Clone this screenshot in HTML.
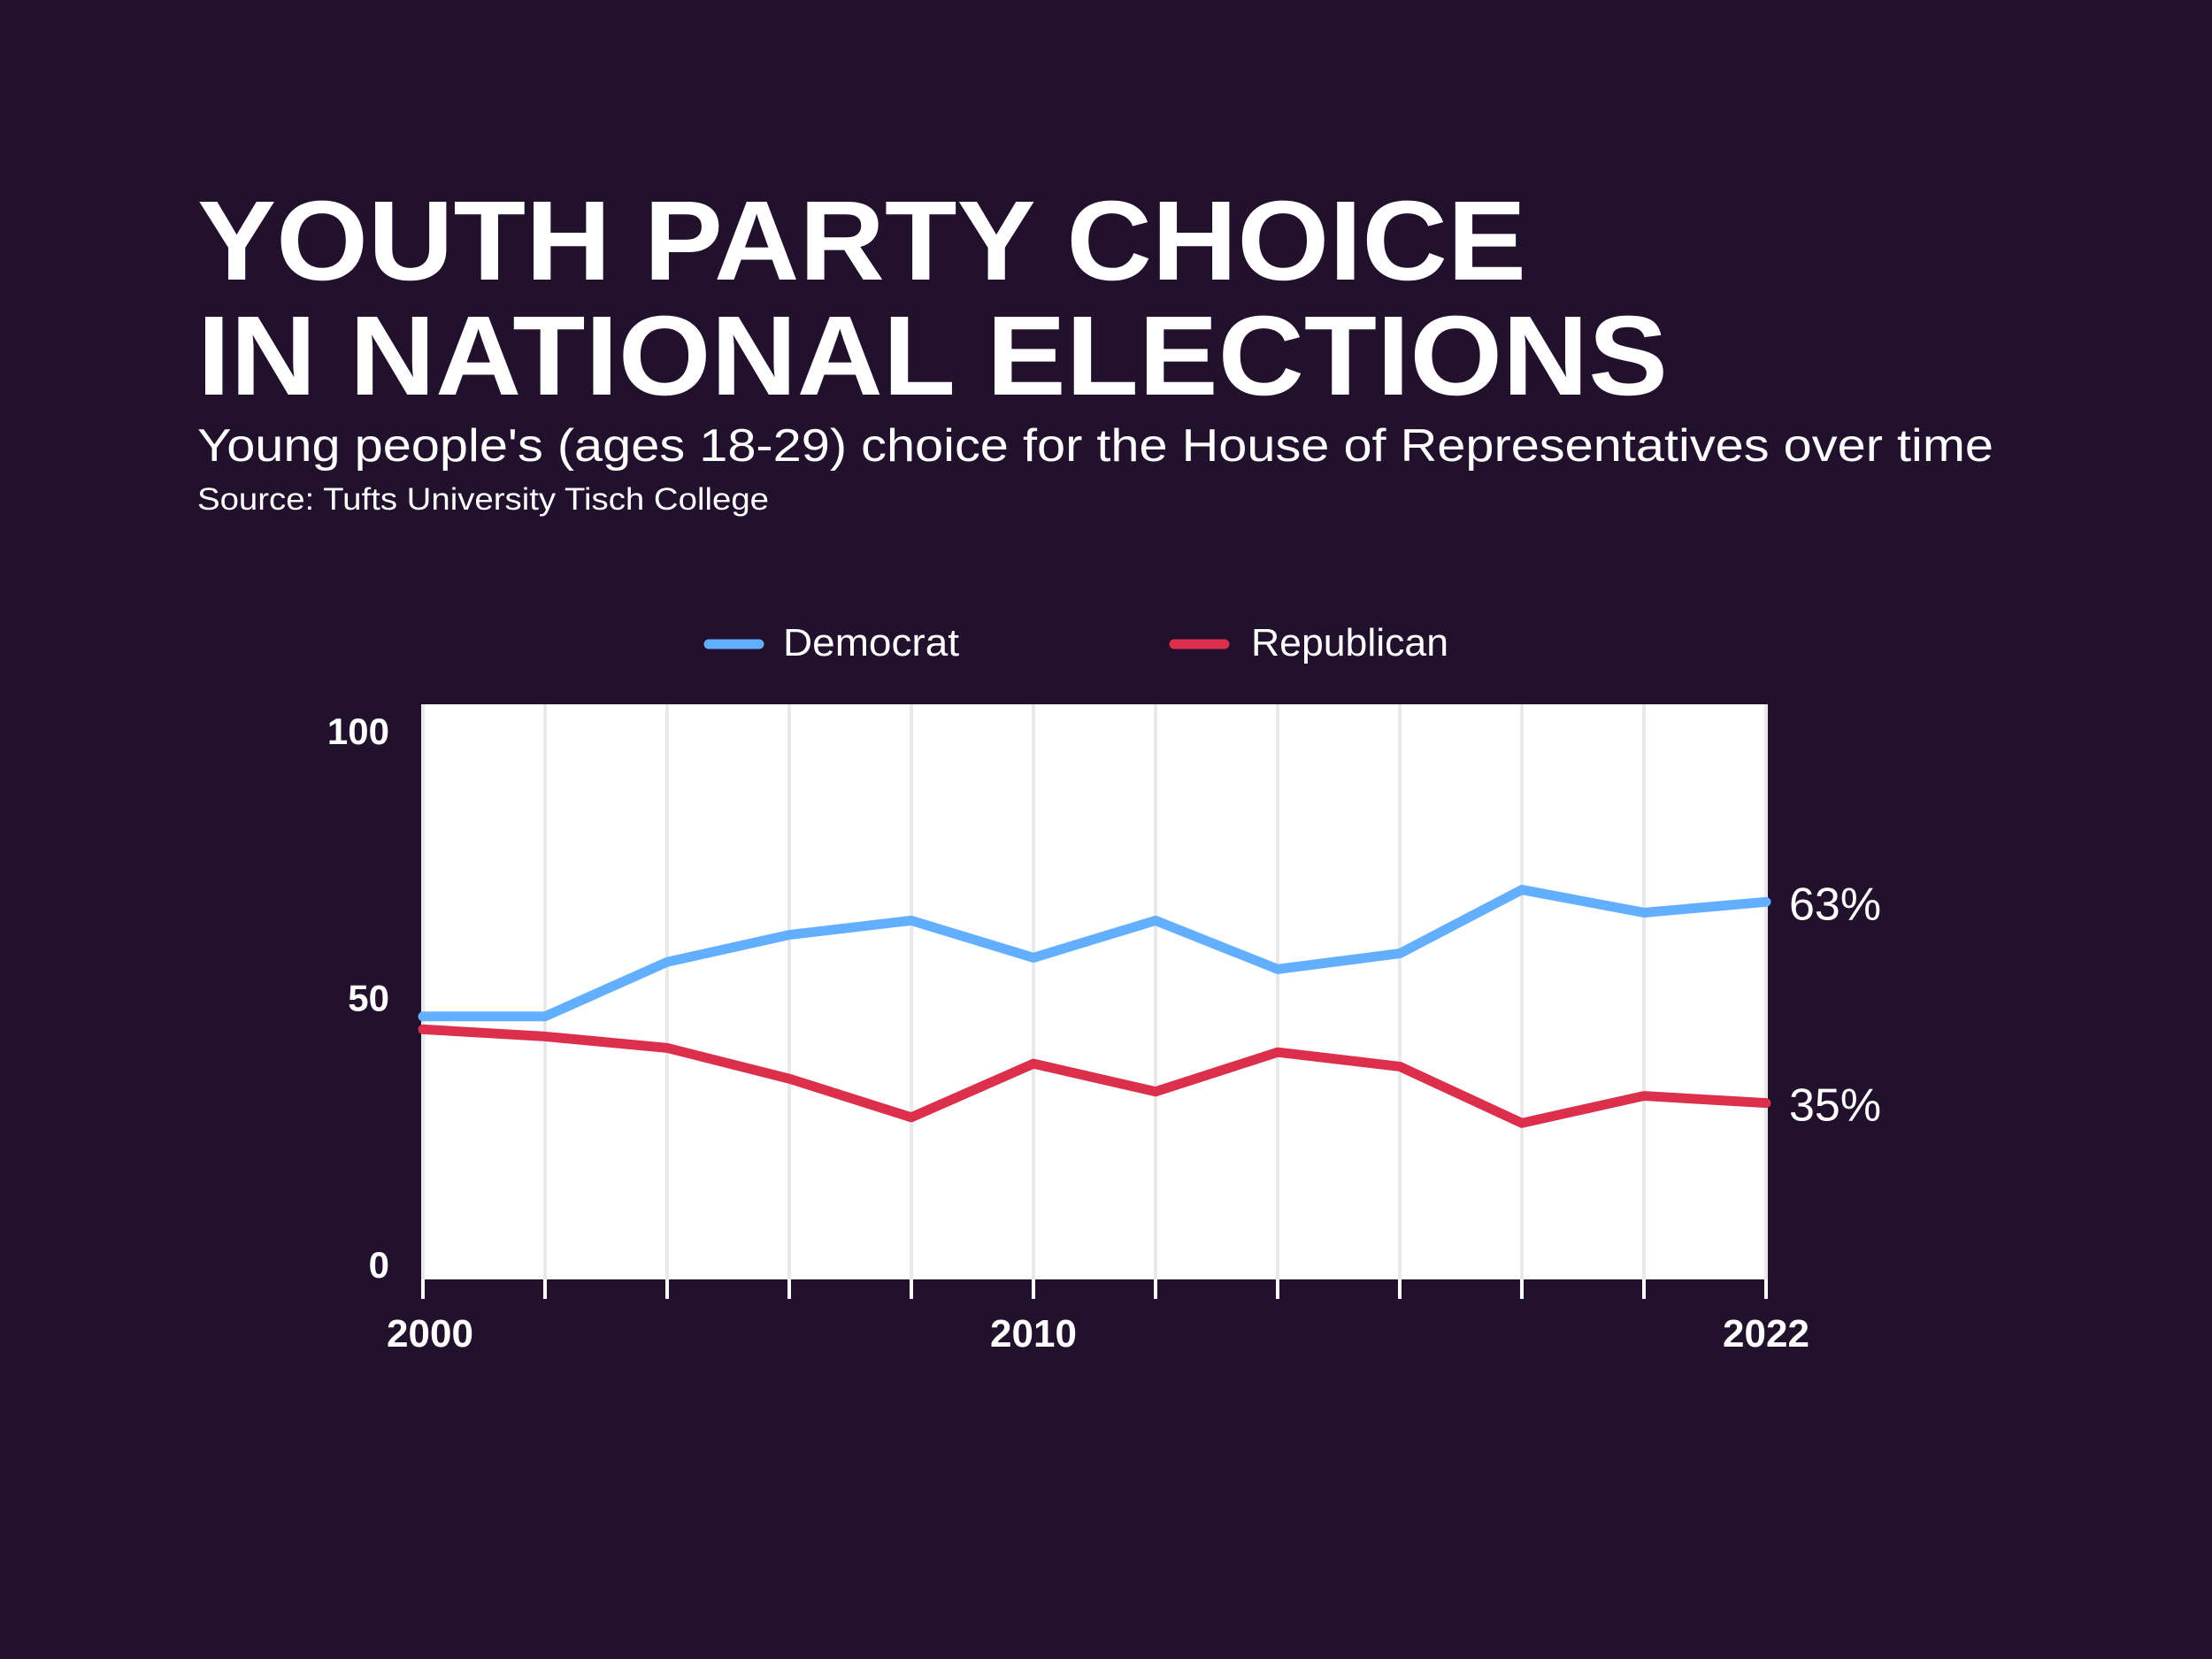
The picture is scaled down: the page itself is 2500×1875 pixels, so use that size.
<!DOCTYPE html>
<html><head><meta charset="utf-8"><style>
html,body{margin:0;padding:0;background:#22112d;}
svg{display:block;font-family:"Liberation Sans",sans-serif;}
</style></head><body>
<svg id="chart" width="2500" height="1875" viewBox="0 0 2500 1875">
<rect width="2500" height="1875" fill="#22112d"/>
<text x="223" y="316" fill="#fff" font-weight="bold" font-size="128" textLength="1502" lengthAdjust="spacingAndGlyphs">YOUTH PARTY CHOICE</text>
<text x="223" y="446" fill="#fff" font-weight="bold" font-size="128" textLength="1662" lengthAdjust="spacingAndGlyphs">IN NATIONAL ELECTIONS</text>
<text x="223" y="521" fill="#fff" font-size="52" textLength="2030" lengthAdjust="spacingAndGlyphs">Young people's (ages 18-29) choice for the House of Representatives over time</text>
<text x="223" y="576" fill="#fff" font-size="35" textLength="646" lengthAdjust="spacingAndGlyphs">Source: Tufts University Tisch College</text>
<g>
<line x1="801" y1="728" x2="858" y2="728" stroke="#62aeff" stroke-width="11" stroke-linecap="round"/>
<text x="885" y="741" fill="#fff" font-size="44" textLength="199" lengthAdjust="spacingAndGlyphs">Democrat</text>
<line x1="1327" y1="728" x2="1384" y2="728" stroke="#dc2f4c" stroke-width="11" stroke-linecap="round"/>
<text x="1414" y="741" fill="#fff" font-size="44" textLength="223" lengthAdjust="spacingAndGlyphs">Republican</text>
</g>
<rect x="478" y="796" width="1518" height="650" fill="#fff"/>
<g id="grid"></g><g id="lines"></g><g id="labels"></g>
</svg>
<script>
const years = [2000,2002,2004,2006,2008,2010,2012,2014,2016,2018,2020,2022];
const democrat = [47,47,54.6,58.4,60.4,55.2,60.4,53.6,55.8,64.7,61.5,63];
const republican = [45.2,44.2,42.6,38.3,32.9,40.4,36.5,42,40,32.1,35.9,34.9];
const yTicks = [100,50,0];
const xTickLabels = [2000,2010,2022];
const endLabels = ["63%","35%"];

const NS="http://www.w3.org/2000/svg";
function x(yr){return 478+(yr-2000)/22*1518;}
function y(v){return 1529-v*8.09;}
function yLabelPos(v){return 1429-(v/100)*603;}
function mk(tag,attrs,parent){const e=document.createElementNS(NS,tag);for(const k in attrs)e.setAttribute(k,attrs[k]);parent.appendChild(e);return e;}
const grid=document.getElementById('grid'),lines=document.getElementById('lines'),labels=document.getElementById('labels');
years.forEach(yr=>{
  const g=mk('line',{x1:x(yr),x2:x(yr),y1:796,y2:1446,stroke:'#e9e9ec','stroke-width':4},grid);
  
  
  const t=mk('line',{x1:x(yr),x2:x(yr),y1:1446,y2:1468,stroke:'#fff','stroke-width':4},grid);
  
  
});
function series(vals,color,name){
  const p=mk('polyline',{points:vals.map((v,i)=>x(years[i])+','+y(v)).join(' '),fill:'none',stroke:color,'stroke-width':11,'stroke-linejoin':'round','stroke-linecap':'round'},lines);
  
  
}
series(democrat,'#62aeff','democrat');
series(republican,'#dc2f4c','republican');
yTicks.forEach(v=>{
  const t=mk('text',{x:440,y:yLabelPos(v)+15,fill:'#fff','font-size':42,'font-weight':'bold','text-anchor':'end'},labels);
  t.textContent=v;
  
  
});
xTickLabels.forEach(yr=>{
  const t=mk('text',{x:x(yr)+(yr===2000?8:0),y:1522,fill:'#fff','font-size':44,'font-weight':'bold','text-anchor':'middle'},labels);
  t.textContent=yr;
  
  
});
[[democrat,endLabels[0],'democrat'],[republican,endLabels[1],'republican']].forEach(([vals,txt,n])=>{
  const t=mk('text',{x:2022,y:y(vals[vals.length-1])+20,fill:'#fff','font-size':52},labels);
  t.textContent=txt;
  
  
});
</script>
</body></html>
